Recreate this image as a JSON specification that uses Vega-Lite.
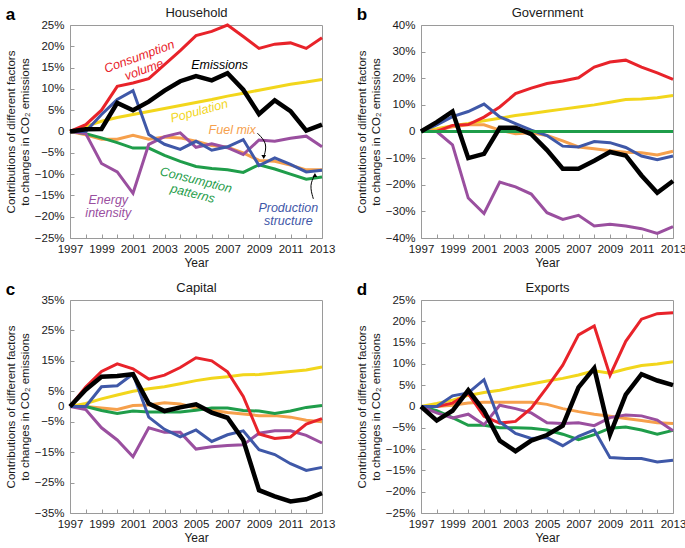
{
  "$schema": "https://vega.github.io/schema/vega-lite/v6.json",
  "padding": {"left": 5, "top": 5, "right": 2, "bottom": 2},
  "config": {
    "font": "Liberation Sans",
    "view": {"stroke": "#9a9a9a", "strokeWidth": 1},
    "axis": {"grid": false, "domain": false, "tickSize": -4, "tickColor": "#9a9a9a", "labelFontSize": 11.5, "labelColor": "#1a1a1a", "titleFontSize": 12, "titleFontWeight": "normal", "titleColor": "#1a1a1a"},
    "axisY": {"labelPadding": 10, "titlePadding": 4, "titleFontSize": 11.5},
    "axisX": {"labelPadding": 9, "titlePadding": 3},
    "text": {"align": "center", "baseline": "middle"}
  },
  "datasets": {
    "a": [
      {"s":"PO","x":1997,"v":0},{"s":"PO","x":1998,"v":1.2},{"s":"PO","x":1999,"v":2.4},{"s":"PO","x":2000,"v":3.3},{"s":"PO","x":2001,"v":4},{"s":"PO","x":2002,"v":4.7},{"s":"PO","x":2003,"v":5.4},{"s":"PO","x":2004,"v":6.1},{"s":"PO","x":2005,"v":6.8},{"s":"PO","x":2006,"v":7.5},{"s":"PO","x":2007,"v":8.3},{"s":"PO","x":2008,"v":9},{"s":"PO","x":2009,"v":9.7},{"s":"PO","x":2010,"v":10.4},{"s":"PO","x":2011,"v":11.1},{"s":"PO","x":2012,"v":11.6},{"s":"PO","x":2013,"v":12.2},
      {"s":"FM","x":1997,"v":0},{"s":"FM","x":1998,"v":-0.8},{"s":"FM","x":1999,"v":-1.8},{"s":"FM","x":2000,"v":-1.8},{"s":"FM","x":2001,"v":-0.9},{"s":"FM","x":2002,"v":-1.8},{"s":"FM","x":2003,"v":-1.3},{"s":"FM","x":2004,"v":-1.5},{"s":"FM","x":2005,"v":-2.3},{"s":"FM","x":2006,"v":-3.3},{"s":"FM","x":2007,"v":-3.7},{"s":"FM","x":2008,"v":-5},{"s":"FM","x":2009,"v":-6.8},{"s":"FM","x":2010,"v":-7},{"s":"FM","x":2011,"v":-7.9},{"s":"FM","x":2012,"v":-9},{"s":"FM","x":2013,"v":-9},
      {"s":"CP","x":1997,"v":0},{"s":"CP","x":1998,"v":-0.5},{"s":"CP","x":1999,"v":-1.5},{"s":"CP","x":2000,"v":-2.6},{"s":"CP","x":2001,"v":-3.9},{"s":"CP","x":2002,"v":-3.9},{"s":"CP","x":2003,"v":-5.6},{"s":"CP","x":2004,"v":-7},{"s":"CP","x":2005,"v":-8.2},{"s":"CP","x":2006,"v":-8.7},{"s":"CP","x":2007,"v":-9},{"s":"CP","x":2008,"v":-9.6},{"s":"CP","x":2009,"v":-7.8},{"s":"CP","x":2010,"v":-8.8},{"s":"CP","x":2011,"v":-10},{"s":"CP","x":2012,"v":-11.2},{"s":"CP","x":2013,"v":-10.7},
      {"s":"EI","x":1997,"v":0},{"s":"EI","x":1998,"v":-0.5},{"s":"EI","x":1999,"v":-7.5},{"s":"EI","x":2000,"v":-9.5},{"s":"EI","x":2001,"v":-14.5},{"s":"EI","x":2002,"v":-3},{"s":"EI","x":2003,"v":-1.2},{"s":"EI","x":2004,"v":-0.3},{"s":"EI","x":2005,"v":-3.7},{"s":"EI","x":2006,"v":-2.9},{"s":"EI","x":2007,"v":-3.8},{"s":"EI","x":2008,"v":-5.4},{"s":"EI","x":2009,"v":-2},{"s":"EI","x":2010,"v":-2.3},{"s":"EI","x":2011,"v":-1.6},{"s":"EI","x":2012,"v":-1.1},{"s":"EI","x":2013,"v":-3.6},
      {"s":"CV","x":1997,"v":0},{"s":"CV","x":1998,"v":1.6},{"s":"CV","x":1999,"v":5},{"s":"CV","x":2000,"v":10.6},{"s":"CV","x":2001,"v":11.4},{"s":"CV","x":2002,"v":12.4},{"s":"CV","x":2003,"v":15.7},{"s":"CV","x":2004,"v":19},{"s":"CV","x":2005,"v":22.5},{"s":"CV","x":2006,"v":23.5},{"s":"CV","x":2007,"v":25},{"s":"CV","x":2008,"v":22.3},{"s":"CV","x":2009,"v":19.5},{"s":"CV","x":2010,"v":20.5},{"s":"CV","x":2011,"v":20.8},{"s":"CV","x":2012,"v":19.5},{"s":"CV","x":2013,"v":22},
      {"s":"PS","x":1997,"v":0},{"s":"PS","x":1998,"v":0},{"s":"PS","x":1999,"v":4},{"s":"PS","x":2000,"v":7.5},{"s":"PS","x":2001,"v":9.6},{"s":"PS","x":2002,"v":-0.7},{"s":"PS","x":2003,"v":-3},{"s":"PS","x":2004,"v":-4.2},{"s":"PS","x":2005,"v":-2.3},{"s":"PS","x":2006,"v":-4.4},{"s":"PS","x":2007,"v":-3.6},{"s":"PS","x":2008,"v":-1.9},{"s":"PS","x":2009,"v":-8},{"s":"PS","x":2010,"v":-6.2},{"s":"PS","x":2011,"v":-7.7},{"s":"PS","x":2012,"v":-9.5},{"s":"PS","x":2013,"v":-9.1},
      {"s":"EM","x":1997,"v":0},{"s":"EM","x":1998,"v":0.5},{"s":"EM","x":1999,"v":0.6},{"s":"EM","x":2000,"v":6.7},{"s":"EM","x":2001,"v":5},{"s":"EM","x":2002,"v":7},{"s":"EM","x":2003,"v":9.6},{"s":"EM","x":2004,"v":11.8},{"s":"EM","x":2005,"v":13},{"s":"EM","x":2006,"v":12},{"s":"EM","x":2007,"v":13.7},{"s":"EM","x":2008,"v":9.8},{"s":"EM","x":2009,"v":4.1},{"s":"EM","x":2010,"v":7.3},{"s":"EM","x":2011,"v":4.8},{"s":"EM","x":2012,"v":0.2},{"s":"EM","x":2013,"v":1.6}
    ],
    "b": [
      {"s":"PO","x":1997,"v":0},{"s":"PO","x":1998,"v":1},{"s":"PO","x":1999,"v":2.2},{"s":"PO","x":2000,"v":3},{"s":"PO","x":2001,"v":4},{"s":"PO","x":2002,"v":5},{"s":"PO","x":2003,"v":6},{"s":"PO","x":2004,"v":6.8},{"s":"PO","x":2005,"v":7.6},{"s":"PO","x":2006,"v":8.4},{"s":"PO","x":2007,"v":9.2},{"s":"PO","x":2008,"v":10},{"s":"PO","x":2009,"v":11},{"s":"PO","x":2010,"v":12},{"s":"PO","x":2011,"v":12.2},{"s":"PO","x":2012,"v":12.7},{"s":"PO","x":2013,"v":13.5},
      {"s":"FM","x":1997,"v":0},{"s":"FM","x":1998,"v":0.5},{"s":"FM","x":1999,"v":1.8},{"s":"FM","x":2000,"v":2.5},{"s":"FM","x":2001,"v":2.5},{"s":"FM","x":2002,"v":0.5},{"s":"FM","x":2003,"v":-0.8},{"s":"FM","x":2004,"v":-0.5},{"s":"FM","x":2005,"v":-1.5},{"s":"FM","x":2006,"v":-3.5},{"s":"FM","x":2007,"v":-5.8},{"s":"FM","x":2008,"v":-6.5},{"s":"FM","x":2009,"v":-7.2},{"s":"FM","x":2010,"v":-7.8},{"s":"FM","x":2011,"v":-8},{"s":"FM","x":2012,"v":-8.8},{"s":"FM","x":2013,"v":-7.4},
      {"s":"EI","x":1997,"v":0},{"s":"EI","x":1998,"v":0},{"s":"EI","x":1999,"v":-5},{"s":"EI","x":2000,"v":-25},{"s":"EI","x":2001,"v":-30.8},{"s":"EI","x":2002,"v":-19},{"s":"EI","x":2003,"v":-20.8},{"s":"EI","x":2004,"v":-23.5},{"s":"EI","x":2005,"v":-30.5},{"s":"EI","x":2006,"v":-33},{"s":"EI","x":2007,"v":-31.5},{"s":"EI","x":2008,"v":-35.5},{"s":"EI","x":2009,"v":-34.8},{"s":"EI","x":2010,"v":-35.5},{"s":"EI","x":2011,"v":-36.5},{"s":"EI","x":2012,"v":-38.3},{"s":"EI","x":2013,"v":-35.7},
      {"s":"CV","x":1997,"v":0},{"s":"CV","x":1998,"v":0},{"s":"CV","x":1999,"v":2.3},{"s":"CV","x":2000,"v":2.6},{"s":"CV","x":2001,"v":5.4},{"s":"CV","x":2002,"v":9.2},{"s":"CV","x":2003,"v":14.2},{"s":"CV","x":2004,"v":16.3},{"s":"CV","x":2005,"v":18},{"s":"CV","x":2006,"v":19},{"s":"CV","x":2007,"v":20.2},{"s":"CV","x":2008,"v":24.2},{"s":"CV","x":2009,"v":26.1},{"s":"CV","x":2010,"v":26.8},{"s":"CV","x":2011,"v":24.2},{"s":"CV","x":2012,"v":22},{"s":"CV","x":2013,"v":19.6},
      {"s":"PS","x":1997,"v":0},{"s":"PS","x":1998,"v":2.5},{"s":"PS","x":1999,"v":5.6},{"s":"PS","x":2000,"v":7.5},{"s":"PS","x":2001,"v":10.3},{"s":"PS","x":2002,"v":5.5},{"s":"PS","x":2003,"v":3},{"s":"PS","x":2004,"v":0.5},{"s":"PS","x":2005,"v":-1.5},{"s":"PS","x":2006,"v":-5.5},{"s":"PS","x":2007,"v":-5.8},{"s":"PS","x":2008,"v":-3.8},{"s":"PS","x":2009,"v":-4.2},{"s":"PS","x":2010,"v":-6},{"s":"PS","x":2011,"v":-9.2},{"s":"PS","x":2012,"v":-10.6},{"s":"PS","x":2013,"v":-9.2},
      {"s":"CP","x":1997,"v":0},{"s":"CP","x":1998,"v":0},{"s":"CP","x":1999,"v":0},{"s":"CP","x":2000,"v":0},{"s":"CP","x":2001,"v":0},{"s":"CP","x":2002,"v":0},{"s":"CP","x":2003,"v":0},{"s":"CP","x":2004,"v":0},{"s":"CP","x":2005,"v":0},{"s":"CP","x":2006,"v":0},{"s":"CP","x":2007,"v":0},{"s":"CP","x":2008,"v":0},{"s":"CP","x":2009,"v":0},{"s":"CP","x":2010,"v":0},{"s":"CP","x":2011,"v":0},{"s":"CP","x":2012,"v":0},{"s":"CP","x":2013,"v":0},
      {"s":"EM","x":1997,"v":0},{"s":"EM","x":1998,"v":3.5},{"s":"EM","x":1999,"v":7.5},{"s":"EM","x":2000,"v":-10},{"s":"EM","x":2001,"v":-8.4},{"s":"EM","x":2002,"v":1.4},{"s":"EM","x":2003,"v":1.4},{"s":"EM","x":2004,"v":-1},{"s":"EM","x":2005,"v":-7},{"s":"EM","x":2006,"v":-14},{"s":"EM","x":2007,"v":-14},{"s":"EM","x":2008,"v":-11},{"s":"EM","x":2009,"v":-7.7},{"s":"EM","x":2010,"v":-9},{"s":"EM","x":2011,"v":-16.5},{"s":"EM","x":2012,"v":-23},{"s":"EM","x":2013,"v":-18.6}
    ],
    "c": [
      {"s":"PO","x":1997,"v":0},{"s":"PO","x":1998,"v":1},{"s":"PO","x":1999,"v":2.5},{"s":"PO","x":2000,"v":3.8},{"s":"PO","x":2001,"v":5},{"s":"PO","x":2002,"v":5.8},{"s":"PO","x":2003,"v":6.5},{"s":"PO","x":2004,"v":7.5},{"s":"PO","x":2005,"v":8.5},{"s":"PO","x":2006,"v":9.3},{"s":"PO","x":2007,"v":9.8},{"s":"PO","x":2008,"v":10.4},{"s":"PO","x":2009,"v":10.5},{"s":"PO","x":2010,"v":11},{"s":"PO","x":2011,"v":11.5},{"s":"PO","x":2012,"v":12},{"s":"PO","x":2013,"v":13},
      {"s":"FM","x":1997,"v":0},{"s":"FM","x":1998,"v":0},{"s":"FM","x":1999,"v":-0.5},{"s":"FM","x":2000,"v":-1},{"s":"FM","x":2001,"v":0.3},{"s":"FM","x":2002,"v":0.5},{"s":"FM","x":2003,"v":1.2},{"s":"FM","x":2004,"v":0.8},{"s":"FM","x":2005,"v":-0.5},{"s":"FM","x":2006,"v":-1.2},{"s":"FM","x":2007,"v":-2},{"s":"FM","x":2008,"v":-2.5},{"s":"FM","x":2009,"v":-3},{"s":"FM","x":2010,"v":-3},{"s":"FM","x":2011,"v":-3.5},{"s":"FM","x":2012,"v":-4.5},{"s":"FM","x":2013,"v":-5},
      {"s":"CP","x":1997,"v":0},{"s":"CP","x":1998,"v":0},{"s":"CP","x":1999,"v":-1.3},{"s":"CP","x":2000,"v":-2.3},{"s":"CP","x":2001,"v":-1.5},{"s":"CP","x":2002,"v":-1.8},{"s":"CP","x":2003,"v":-1.8},{"s":"CP","x":2004,"v":-1.8},{"s":"CP","x":2005,"v":-1.2},{"s":"CP","x":2006,"v":-0.5},{"s":"CP","x":2007,"v":-0.5},{"s":"CP","x":2008,"v":-1.3},{"s":"CP","x":2009,"v":-1.5},{"s":"CP","x":2010,"v":-2.3},{"s":"CP","x":2011,"v":-1.5},{"s":"CP","x":2012,"v":-0.3},{"s":"CP","x":2013,"v":0.3},
      {"s":"EI","x":1997,"v":0},{"s":"EI","x":1998,"v":-1},{"s":"EI","x":1999,"v":-7},{"s":"EI","x":2000,"v":-11},{"s":"EI","x":2001,"v":-16.5},{"s":"EI","x":2002,"v":-7},{"s":"EI","x":2003,"v":-8.5},{"s":"EI","x":2004,"v":-8.5},{"s":"EI","x":2005,"v":-14},{"s":"EI","x":2006,"v":-13.2},{"s":"EI","x":2007,"v":-12.8},{"s":"EI","x":2008,"v":-12.6},{"s":"EI","x":2009,"v":-8.8},{"s":"EI","x":2010,"v":-8},{"s":"EI","x":2011,"v":-8},{"s":"EI","x":2012,"v":-9.5},{"s":"EI","x":2013,"v":-12},
      {"s":"CV","x":1997,"v":0},{"s":"CV","x":1998,"v":6.4},{"s":"CV","x":1999,"v":11.5},{"s":"CV","x":2000,"v":14},{"s":"CV","x":2001,"v":12.4},{"s":"CV","x":2002,"v":9},{"s":"CV","x":2003,"v":10.3},{"s":"CV","x":2004,"v":12.8},{"s":"CV","x":2005,"v":16},{"s":"CV","x":2006,"v":15},{"s":"CV","x":2007,"v":11.4},{"s":"CV","x":2008,"v":3.3},{"s":"CV","x":2009,"v":-9},{"s":"CV","x":2010,"v":-10.5},{"s":"CV","x":2011,"v":-10},{"s":"CV","x":2012,"v":-5.8},{"s":"CV","x":2013,"v":-4},
      {"s":"PS","x":1997,"v":0},{"s":"PS","x":1998,"v":0},{"s":"PS","x":1999,"v":6.5},{"s":"PS","x":2000,"v":6.8},{"s":"PS","x":2001,"v":10.7},{"s":"PS","x":2002,"v":-3.5},{"s":"PS","x":2003,"v":-7.5},{"s":"PS","x":2004,"v":-10},{"s":"PS","x":2005,"v":-7.7},{"s":"PS","x":2006,"v":-11.5},{"s":"PS","x":2007,"v":-9.3},{"s":"PS","x":2008,"v":-8},{"s":"PS","x":2009,"v":-14.2},{"s":"PS","x":2010,"v":-15.8},{"s":"PS","x":2011,"v":-18.8},{"s":"PS","x":2012,"v":-21},{"s":"PS","x":2013,"v":-20},
      {"s":"EM","x":1997,"v":0},{"s":"EM","x":1998,"v":5.5},{"s":"EM","x":1999,"v":9.8},{"s":"EM","x":2000,"v":10},{"s":"EM","x":2001,"v":10.6},{"s":"EM","x":2002,"v":1},{"s":"EM","x":2003,"v":-1.5},{"s":"EM","x":2004,"v":-0.3},{"s":"EM","x":2005,"v":0.7},{"s":"EM","x":2006,"v":-2},{"s":"EM","x":2007,"v":-3.7},{"s":"EM","x":2008,"v":-11},{"s":"EM","x":2009,"v":-27.5},{"s":"EM","x":2010,"v":-29.5},{"s":"EM","x":2011,"v":-31.2},{"s":"EM","x":2012,"v":-30.5},{"s":"EM","x":2013,"v":-28.5}
    ],
    "d": [
      {"s":"PO","x":1997,"v":0},{"s":"PO","x":1998,"v":0.7},{"s":"PO","x":1999,"v":1.5},{"s":"PO","x":2000,"v":2.6},{"s":"PO","x":2001,"v":3.3},{"s":"PO","x":2002,"v":3.8},{"s":"PO","x":2003,"v":4.6},{"s":"PO","x":2004,"v":5.3},{"s":"PO","x":2005,"v":6},{"s":"PO","x":2006,"v":6.6},{"s":"PO","x":2007,"v":7.4},{"s":"PO","x":2008,"v":8.4},{"s":"PO","x":2009,"v":7.8},{"s":"PO","x":2010,"v":8.8},{"s":"PO","x":2011,"v":9.6},{"s":"PO","x":2012,"v":10},{"s":"PO","x":2013,"v":10.5},
      {"s":"FM","x":1997,"v":0},{"s":"FM","x":1998,"v":0},{"s":"FM","x":1999,"v":0.3},{"s":"FM","x":2000,"v":0.8},{"s":"FM","x":2001,"v":1},{"s":"FM","x":2002,"v":1},{"s":"FM","x":2003,"v":1},{"s":"FM","x":2004,"v":1},{"s":"FM","x":2005,"v":0.5},{"s":"FM","x":2006,"v":-0.5},{"s":"FM","x":2007,"v":-1.2},{"s":"FM","x":2008,"v":-1.8},{"s":"FM","x":2009,"v":-2.3},{"s":"FM","x":2010,"v":-2.8},{"s":"FM","x":2011,"v":-3.3},{"s":"FM","x":2012,"v":-3.8},{"s":"FM","x":2013,"v":-4},
      {"s":"CP","x":1997,"v":0},{"s":"CP","x":1998,"v":-1},{"s":"CP","x":1999,"v":-2.6},{"s":"CP","x":2000,"v":-4.4},{"s":"CP","x":2001,"v":-4.4},{"s":"CP","x":2002,"v":-5},{"s":"CP","x":2003,"v":-5},{"s":"CP","x":2004,"v":-5.1},{"s":"CP","x":2005,"v":-5.5},{"s":"CP","x":2006,"v":-6.5},{"s":"CP","x":2007,"v":-7.8},{"s":"CP","x":2008,"v":-6.6},{"s":"CP","x":2009,"v":-5.1},{"s":"CP","x":2010,"v":-4.8},{"s":"CP","x":2011,"v":-5.5},{"s":"CP","x":2012,"v":-6.5},{"s":"CP","x":2013,"v":-5.6},
      {"s":"EI","x":1997,"v":0},{"s":"EI","x":1998,"v":-1.5},{"s":"EI","x":1999,"v":-2.7},{"s":"EI","x":2000,"v":-1.8},{"s":"EI","x":2001,"v":-4.3},{"s":"EI","x":2002,"v":0.3},{"s":"EI","x":2003,"v":-0.5},{"s":"EI","x":2004,"v":-1.5},{"s":"EI","x":2005,"v":-3.8},{"s":"EI","x":2006,"v":-4},{"s":"EI","x":2007,"v":-3.8},{"s":"EI","x":2008,"v":-4.5},{"s":"EI","x":2009,"v":-2.6},{"s":"EI","x":2010,"v":-2},{"s":"EI","x":2011,"v":-2.2},{"s":"EI","x":2012,"v":-3.2},{"s":"EI","x":2013,"v":-5.7},
      {"s":"CV","x":1997,"v":0},{"s":"CV","x":1998,"v":0},{"s":"CV","x":1999,"v":0.8},{"s":"CV","x":2000,"v":3},{"s":"CV","x":2001,"v":-2.3},{"s":"CV","x":2002,"v":-3.9},{"s":"CV","x":2003,"v":-3.5},{"s":"CV","x":2004,"v":-0.4},{"s":"CV","x":2005,"v":4.5},{"s":"CV","x":2006,"v":9.7},{"s":"CV","x":2007,"v":16.8},{"s":"CV","x":2008,"v":18.9},{"s":"CV","x":2009,"v":7.3},{"s":"CV","x":2010,"v":15.3},{"s":"CV","x":2011,"v":20.5},{"s":"CV","x":2012,"v":21.8},{"s":"CV","x":2013,"v":22},
      {"s":"PS","x":1997,"v":0},{"s":"PS","x":1998,"v":0},{"s":"PS","x":1999,"v":2.5},{"s":"PS","x":2000,"v":3.2},{"s":"PS","x":2001,"v":6.3},{"s":"PS","x":2002,"v":-3.6},{"s":"PS","x":2003,"v":-6.3},{"s":"PS","x":2004,"v":-7.5},{"s":"PS","x":2005,"v":-7.3},{"s":"PS","x":2006,"v":-9.2},{"s":"PS","x":2007,"v":-7},{"s":"PS","x":2008,"v":-5.5},{"s":"PS","x":2009,"v":-12},{"s":"PS","x":2010,"v":-12.2},{"s":"PS","x":2011,"v":-12.2},{"s":"PS","x":2012,"v":-13},{"s":"PS","x":2013,"v":-12.6},
      {"s":"EM","x":1997,"v":0},{"s":"EM","x":1998,"v":-3.3},{"s":"EM","x":1999,"v":-1},{"s":"EM","x":2000,"v":3.8},{"s":"EM","x":2001,"v":-1},{"s":"EM","x":2002,"v":-8},{"s":"EM","x":2003,"v":-10.5},{"s":"EM","x":2004,"v":-8},{"s":"EM","x":2005,"v":-6.7},{"s":"EM","x":2006,"v":-4.5},{"s":"EM","x":2007,"v":4.5},{"s":"EM","x":2008,"v":9},{"s":"EM","x":2009,"v":-6.6},{"s":"EM","x":2010,"v":2.8},{"s":"EM","x":2011,"v":7.6},{"s":"EM","x":2012,"v":6.1},{"s":"EM","x":2013,"v":5}
    ],
    "notes": [
      {"t":"Consumption\nvolume","s":"CV","x":2001.4,"v":17.6},
      {"t":"Emissions","s":"EM","x":2006.5,"v":15.6},
      {"t":"Population","s":"PO","x":2005.2,"v":4.8},
      {"t":"Fuel mix","s":"FM","x":2007.3,"v":0.3},
      {"t":"Consumption\npatterns","s":"CP","x":2005.0,"v":-11.4},
      {"t":"Energy\nintensity","s":"EI","x":1999.43,"v":-16.1},
      {"t":"Production\nstructure","s":"PS","x":2010.86,"v":-18.0}
    ],
    "arrows": [
      {"id":1,"o":1,"x":2008.9,"v":-0.4},{"id":1,"o":2,"x":2009.55,"v":-2.8},{"id":1,"o":3,"x":2009.3,"v":-6.0},
      {"id":2,"o":1,"x":2012.45,"v":-15.8},{"id":2,"o":2,"x":2012.2,"v":-12.6},{"id":2,"o":3,"x":2012.55,"v":-10.2}
    ]
  },
  "vconcat": [
    {"hconcat": [
      {
        "width": 252, "height": 213,
        "title": {"text": "a", "anchor": "start", "frame": "bounds", "fontSize": 17, "fontWeight": "bold", "offset": -18},
        "resolve": {"axis": {"x": "independent", "y": "independent"}},
        "layer": [
          {"mark": {"type": "rule", "strokeDash": [1.5, 2.5], "color": "#8a8a8a", "strokeWidth": 1.2},
           "encoding": {"y": {"datum": 0, "type": "quantitative", "scale": {"domain": [-25, 25], "nice": false}, "axis": null}}},
          {"data": {"name": "a"}, "transform": [{"filter": "datum.s != 'EM'"}],
           "mark": {"type": "line", "strokeWidth": 3},
           "encoding": {
             "x": {"field": "x", "type": "quantitative", "scale": {"domain": [1997, 2013], "nice": false, "zero": false},
                   "axis": {"title": "Year", "values": [1997,1998,1999,2000,2001,2002,2003,2004,2005,2006,2007,2008,2009,2010,2011,2012,2013], "labelExpr": "datum.value % 2 == 1 ? '' + datum.value : ''", "labelFlush": false}},
             "y": {"field": "v", "type": "quantitative", "scale": {"domain": [-25, 25], "nice": false},
                   "axis": {"title": ["Contributions of different factors", "to changes in CO₂ emissions"], "values": [-25,-20,-15,-10,-5,0,5,10,15,20,25], "labelExpr": "datum.value == 0 ? '0' : ((datum.value < 0 ? '−' + abs(datum.value) : '' + datum.value) + '%')"}},
             "color": {"field": "s", "type": "nominal", "legend": null, "scale": {"domain": ["PO","FM","CP","EI","CV","PS","EM"], "range": ["#f2d61c","#f6a04c","#1f9d4a","#9a4f9f","#e8232a","#3f58a8","#000000"]}}
           }},
          {"data": {"name": "a"}, "transform": [{"filter": "datum.s == 'EM'"}],
           "mark": {"type": "line", "strokeWidth": 4.5, "color": "#000000"},
           "encoding": {
             "x": {"field": "x", "type": "quantitative", "scale": {"domain": [1997, 2013], "nice": false, "zero": false},
                   "axis": {"orient": "top", "title": "Household", "titleFontSize": 13, "labels": false, "ticks": false, "titlePadding": 6}},
             "y": {"field": "v", "type": "quantitative", "scale": {"domain": [-25, 25], "nice": false}, "axis": null}
           }},
          {"data": {"name": "arrows"},
           "mark": {"type": "line", "interpolate": "basis", "color": "#000000", "strokeWidth": 1},
           "encoding": {
             "x": {"field": "x", "type": "quantitative", "axis": null},
             "y": {"field": "v", "type": "quantitative", "axis": null},
             "detail": {"field": "id"},
             "order": {"field": "o"}
           }},
          {"data": {"name": "arrows"}, "transform": [{"filter": "datum.o == 3"}],
           "mark": {"type": "point", "filled": true, "color": "#000000", "size": 22, "opacity": 1},
           "encoding": {
             "x": {"field": "x", "type": "quantitative", "axis": null},
             "y": {"field": "v", "type": "quantitative", "axis": null},
             "shape": {"field": "id", "type": "nominal", "legend": null, "scale": {"domain": [1, 2], "range": ["triangle-down", "triangle-up"]}}
           }},
          {"data": {"name": "notes"}, "transform": [{"filter": "datum.s == 'CV'"}],
           "mark": {"type": "text", "align": "center", "fontStyle": "italic", "fontSize": 12.5, "angle": -20, "lineBreak": "\n", "lineHeight": 14},
           "encoding": {"x": {"field": "x", "type": "quantitative", "axis": null}, "y": {"field": "v", "type": "quantitative", "axis": null}, "text": {"field": "t"}, "color": {"field": "s", "type": "nominal"}}},
          {"data": {"name": "notes"}, "transform": [{"filter": "datum.s == 'PO'"}],
           "mark": {"type": "text", "align": "center", "fontStyle": "italic", "fontSize": 12.5, "angle": -15},
           "encoding": {"x": {"field": "x", "type": "quantitative", "axis": null}, "y": {"field": "v", "type": "quantitative", "axis": null}, "text": {"field": "t"}, "color": {"field": "s", "type": "nominal"}}},
          {"data": {"name": "notes"}, "transform": [{"filter": "datum.s == 'CP'"}],
           "mark": {"type": "text", "align": "center", "fontStyle": "italic", "fontSize": 12.5, "angle": 14, "lineBreak": "\n", "lineHeight": 14},
           "encoding": {"x": {"field": "x", "type": "quantitative", "axis": null}, "y": {"field": "v", "type": "quantitative", "axis": null}, "text": {"field": "t"}, "color": {"field": "s", "type": "nominal"}}},
          {"data": {"name": "notes"}, "transform": [{"filter": "datum.s == 'EM' || datum.s == 'FM' || datum.s == 'EI' || datum.s == 'PS'"}],
           "mark": {"type": "text", "align": "center", "fontStyle": "italic", "fontSize": 12.5, "lineBreak": "\n", "lineHeight": 13},
           "encoding": {"x": {"field": "x", "type": "quantitative", "axis": null}, "y": {"field": "v", "type": "quantitative", "axis": null}, "text": {"field": "t"}, "color": {"field": "s", "type": "nominal"}}}
        ]
      },
      {
        "width": 252, "height": 213,
        "title": {"text": "b", "anchor": "start", "frame": "bounds", "fontSize": 17, "fontWeight": "bold", "offset": -18},
        "resolve": {"axis": {"x": "independent", "y": "independent"}},
        "layer": [
          {"mark": {"type": "rule", "strokeDash": [1.5, 2.5], "color": "#8a8a8a", "strokeWidth": 1.2},
           "encoding": {"y": {"datum": 0, "type": "quantitative", "scale": {"domain": [-40, 40], "nice": false}, "axis": null}}},
          {"data": {"name": "b"}, "transform": [{"filter": "datum.s != 'EM'"}],
           "mark": {"type": "line", "strokeWidth": 3},
           "encoding": {
             "x": {"field": "x", "type": "quantitative", "scale": {"domain": [1997, 2013], "nice": false, "zero": false},
                   "axis": {"title": "Year", "values": [1997,1998,1999,2000,2001,2002,2003,2004,2005,2006,2007,2008,2009,2010,2011,2012,2013], "labelExpr": "datum.value % 2 == 1 ? '' + datum.value : ''", "labelFlush": false}},
             "y": {"field": "v", "type": "quantitative", "scale": {"domain": [-40, 40], "nice": false},
                   "axis": {"title": ["Contributions of different factors", "to changes in CO₂ emissions"], "values": [-40,-30,-20,-10,0,10,20,30,40], "labelExpr": "datum.value == 0 ? '0' : ((datum.value < 0 ? '−' + abs(datum.value) : '' + datum.value) + '%')"}},
             "color": {"field": "s", "type": "nominal", "legend": null, "scale": {"domain": ["PO","FM","EI","CV","PS","CP","EM"], "range": ["#f2d61c","#f6a04c","#9a4f9f","#e8232a","#3f58a8","#1f9d4a","#000000"]}}
           }},
          {"data": {"name": "b"}, "transform": [{"filter": "datum.s == 'EM'"}],
           "mark": {"type": "line", "strokeWidth": 4.5, "color": "#000000"},
           "encoding": {
             "x": {"field": "x", "type": "quantitative", "scale": {"domain": [1997, 2013], "nice": false, "zero": false},
                   "axis": {"orient": "top", "title": "Government", "titleFontSize": 13, "labels": false, "ticks": false, "titlePadding": 6}},
             "y": {"field": "v", "type": "quantitative", "scale": {"domain": [-40, 40], "nice": false}, "axis": null}
           }}
        ]
      }
    ], "spacing": 20},
    {"hconcat": [
      {
        "width": 252, "height": 213,
        "title": {"text": "c", "anchor": "start", "frame": "bounds", "fontSize": 17, "fontWeight": "bold", "offset": -18},
        "resolve": {"axis": {"x": "independent", "y": "independent"}},
        "layer": [
          {"mark": {"type": "rule", "strokeDash": [1.5, 2.5], "color": "#8a8a8a", "strokeWidth": 1.2},
           "encoding": {"y": {"datum": 0, "type": "quantitative", "scale": {"domain": [-35, 35], "nice": false}, "axis": null}}},
          {"data": {"name": "c"}, "transform": [{"filter": "datum.s != 'EM'"}],
           "mark": {"type": "line", "strokeWidth": 3},
           "encoding": {
             "x": {"field": "x", "type": "quantitative", "scale": {"domain": [1997, 2013], "nice": false, "zero": false},
                   "axis": {"title": "Year", "values": [1997,1998,1999,2000,2001,2002,2003,2004,2005,2006,2007,2008,2009,2010,2011,2012,2013], "labelExpr": "datum.value % 2 == 1 ? '' + datum.value : ''", "labelFlush": false}},
             "y": {"field": "v", "type": "quantitative", "scale": {"domain": [-35, 35], "nice": false},
                   "axis": {"title": ["Contributions of different factors", "to changes in CO₂ emissions"], "values": [-35,-25,-15,-5,0,5,15,25,35], "labelExpr": "datum.value == 0 ? '0' : ((datum.value < 0 ? '−' + abs(datum.value) : '' + datum.value) + '%')"}},
             "color": {"field": "s", "type": "nominal", "legend": null, "scale": {"domain": ["PO","FM","CP","EI","CV","PS","EM"], "range": ["#f2d61c","#f6a04c","#1f9d4a","#9a4f9f","#e8232a","#3f58a8","#000000"]}}
           }},
          {"data": {"name": "c"}, "transform": [{"filter": "datum.s == 'EM'"}],
           "mark": {"type": "line", "strokeWidth": 4.5, "color": "#000000"},
           "encoding": {
             "x": {"field": "x", "type": "quantitative", "scale": {"domain": [1997, 2013], "nice": false, "zero": false},
                   "axis": {"orient": "top", "title": "Capital", "titleFontSize": 13, "labels": false, "ticks": false, "titlePadding": 6}},
             "y": {"field": "v", "type": "quantitative", "scale": {"domain": [-35, 35], "nice": false}, "axis": null}
           }}
        ]
      },
      {
        "width": 252, "height": 213,
        "title": {"text": "d", "anchor": "start", "frame": "bounds", "fontSize": 17, "fontWeight": "bold", "offset": -18},
        "resolve": {"axis": {"x": "independent", "y": "independent"}},
        "layer": [
          {"mark": {"type": "rule", "strokeDash": [1.5, 2.5], "color": "#8a8a8a", "strokeWidth": 1.2},
           "encoding": {"y": {"datum": 0, "type": "quantitative", "scale": {"domain": [-25, 25], "nice": false}, "axis": null}}},
          {"data": {"name": "d"}, "transform": [{"filter": "datum.s != 'EM'"}],
           "mark": {"type": "line", "strokeWidth": 3},
           "encoding": {
             "x": {"field": "x", "type": "quantitative", "scale": {"domain": [1997, 2013], "nice": false, "zero": false},
                   "axis": {"title": "Year", "values": [1997,1998,1999,2000,2001,2002,2003,2004,2005,2006,2007,2008,2009,2010,2011,2012,2013], "labelExpr": "datum.value % 2 == 1 ? '' + datum.value : ''", "labelFlush": false}},
             "y": {"field": "v", "type": "quantitative", "scale": {"domain": [-25, 25], "nice": false},
                   "axis": {"title": ["Contributions of different factors", "to changes in CO₂ emissions"], "values": [-25,-20,-15,-10,-5,0,5,10,15,20,25], "labelExpr": "datum.value == 0 ? '0' : ((datum.value < 0 ? '−' + abs(datum.value) : '' + datum.value) + '%')"}},
             "color": {"field": "s", "type": "nominal", "legend": null, "scale": {"domain": ["PO","FM","CP","EI","CV","PS","EM"], "range": ["#f2d61c","#f6a04c","#1f9d4a","#9a4f9f","#e8232a","#3f58a8","#000000"]}}
           }},
          {"data": {"name": "d"}, "transform": [{"filter": "datum.s == 'EM'"}],
           "mark": {"type": "line", "strokeWidth": 4.5, "color": "#000000"},
           "encoding": {
             "x": {"field": "x", "type": "quantitative", "scale": {"domain": [1997, 2013], "nice": false, "zero": false},
                   "axis": {"orient": "top", "title": "Exports", "titleFontSize": 13, "labels": false, "ticks": false, "titlePadding": 6}},
             "y": {"field": "v", "type": "quantitative", "scale": {"domain": [-25, 25], "nice": false}, "axis": null}
           }}
        ]
      }
    ], "spacing": 20}
  ],
  "spacing": 11
}
